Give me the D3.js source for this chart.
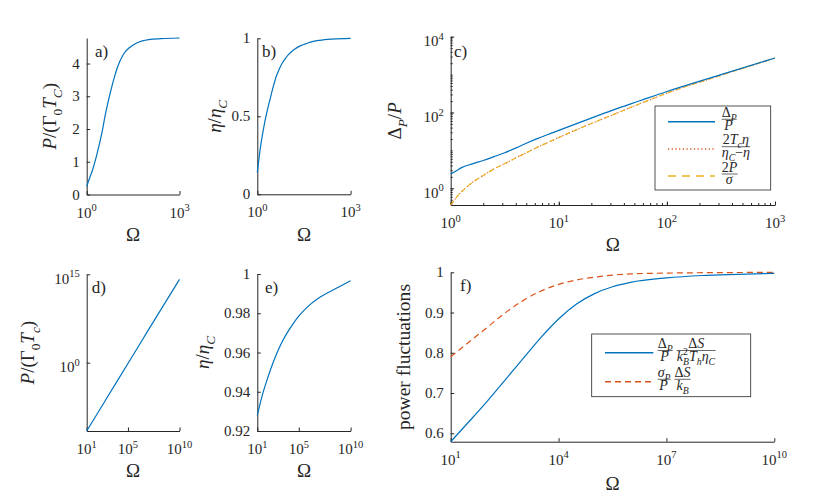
<!DOCTYPE html>
<html><head><meta charset="utf-8">
<script src="https://cdn.jsdelivr.net/npm/d3@7"></script>
<style>body{margin:0;background:#fff}</style>
</head><body>
<svg id="fig" width="830" height="497"></svg>
<script>
// ---------------- data ----------------
// panel a & b  (Omega from 1 to 1000)
const omegaAB = [1, 1.26, 1.58, 2, 2.51, 3.16, 3.98, 5.01, 6.31, 7.94, 10, 15.8, 25.1, 39.8, 63.1, 100, 251, 1000];
const powerA  = [0.25, 0.52, 0.78, 1.12, 1.5, 1.92, 2.43, 2.86, 3.25, 3.6, 3.9, 4.3, 4.5, 4.62, 4.69, 4.73, 4.76, 4.78];
const etaB    = [0.14, 0.30, 0.42, 0.52, 0.60, 0.68, 0.75, 0.80, 0.84, 0.87, 0.895, 0.93, 0.953, 0.968, 0.98, 0.987, 0.995, 1.0];
// panel c
const omegaC      = [1, 1.12, 1.26, 1.58, 2, 2.51, 3.16, 3.98, 5.01, 6.31, 7.94, 10, 17.8, 31.6, 56.2, 100, 316, 1000];
const deltaPoverP = [2.40, 2.88, 3.51, 4.42, 5.43, 6.84, 8.71, 11.5, 15.5, 20.4, 26.3, 33.9, 63.1, 116, 204, 359, 1000, 2740];
const tcEtaRatio  = [0.363, 0.562, 0.813, 1.41, 2.19, 3.24, 4.47, 6.31, 8.71, 12.0, 16.2, 21.9, 44.7, 87.1, 170, 324, 955, 2740];
const twoPoverSig = [0.363, 0.562, 0.813, 1.41, 2.19, 3.24, 4.47, 6.31, 8.71, 12.0, 16.2, 21.9, 44.7, 87.1, 170, 324, 955, 2740];
// panel d
const omegaD = [10, 1e3, 1e5, 1e7, 1e10];
const powerD = [2.5e-12, 1.35e-6, 0.708, 3.98e5, 1.41e14];
// panel e
const omegaE = [10, 31.6, 100, 316, 1000, 3162, 1e4, 31623, 1e5, 1e6, 1e7, 1e8, 1e9, 1e10];
const etaE   = [0.928, 0.9385, 0.947, 0.9545, 0.961, 0.9665, 0.971, 0.975, 0.9785, 0.984, 0.988, 0.991, 0.9938, 0.9966];
// panel f
const omegaF  = [10, 31.6, 100, 316, 1000, 3162, 1e4, 31623, 1e5, 316228, 1e6, 1e7, 1e8, 1e9, 1e10];
const flucDP  = [0.579, 0.628, 0.678, 0.731, 0.784, 0.837, 0.884, 0.921, 0.947, 0.964, 0.975, 0.986, 0.992, 0.995, 0.9975];
const flucSig = [0.79, 0.826, 0.862, 0.898, 0.929, 0.953, 0.97, 0.981, 0.988, 0.993, 0.996, 0.998, 0.999, 0.9995, 1.0];
// ticks
const ticksA_x = [1, 1000], ticksA_y = [0, 1, 2, 3, 4];
const ticksB_y = [0, 0.5, 1];
const ticksC_x = [1, 10, 100, 1000], ticksC_y = [1, 100, 10000];
const ticksD_x = [10, 1e5, 1e10], ticksD_y = [1, 1e15];
const ticksE_y = [0.92, 0.94, 0.96, 0.98, 1];
const ticksF_x = [10, 1e4, 1e7, 1e10], ticksF_y = [0.6, 0.7, 0.8, 0.9, 1];

// ---------------- drawing ----------------
const BLUE = '#0072BD', ORANGE = '#D95319', YELLOW = '#EDB120', AX = '#262626';
const FONT = 'Liberation Serif, serif';
const svg = d3.select('#fig');

function rich(sel, parts, fs) {
  let cur = 0;
  parts.forEach(pt => {
    const off = pt.sub ? 0.3 * fs : pt.sup ? -0.4 * fs : 0;
    const ts = sel.append('tspan').text(pt.t);
    if (off !== cur) ts.attr('dy', off - cur);
    cur = off;
    if (pt.sub || pt.sup) ts.attr('font-size', 0.7 * fs);
    if (pt.i) ts.attr('font-style', 'italic');
    if (pt.dx) ts.attr('dx', pt.dx * fs);
  });
  return sel;
}
function txt(g) { return g.append('text').attr('font-family', FONT).attr('fill', AX); }
function expOf(v) { return Math.round(Math.log10(v)); }
function powLabel(t, v) {
  t.append('tspan').text('10');
  t.append('tspan').attr('dy', -6.5).attr('font-size', 10.5).text(expOf(v));
}
function minorsLog(d0, d1) {
  const out = [];
  for (let e = Math.floor(Math.log10(d0)); e <= Math.ceil(Math.log10(d1)); e++)
    for (let m = 1; m <= 9; m++) { const v = m * Math.pow(10, e); if (v >= d0 * 0.999 && v <= d1 * 1.001) out.push(v); }
  return out;
}

function panel(p) {
  const g = svg.append('g');
  const x = (p.xlog ? d3.scaleLog() : d3.scaleLinear()).domain(p.xd).range([p.L, p.R]);
  const y = (p.ylog ? d3.scaleLog() : d3.scaleLinear()).domain(p.yd).range([p.B, p.T]);
  const style = s => { s.selectAll('path,line').attr('stroke', AX).attr('stroke-width', 1); };
  if (p.xminor) g.append('g').attr('transform', `translate(0,${p.B})`)
    .call(d3.axisBottom(x).tickValues(minorsLog(p.xd[0], p.xd[1])).tickSizeInner(-2).tickSizeOuter(0).tickFormat(''))
    .call(s => s.select('.domain').remove()).call(style);
  if (p.yminor) g.append('g').attr('transform', `translate(${p.L},0)`)
    .call(d3.axisLeft(y).tickValues(minorsLog(p.yd[0], p.yd[1])).tickSizeInner(-2).tickSizeOuter(0).tickFormat(''))
    .call(s => s.select('.domain').remove()).call(style);
  g.append('g').attr('transform', `translate(0,${p.B})`)
    .call(d3.axisBottom(x).tickValues(p.xt).tickSizeInner(-3.5).tickSizeOuter(0).tickFormat('')).call(style);
  g.append('g').attr('transform', `translate(${p.L},0)`)
    .call(d3.axisLeft(y).tickValues(p.yt).tickSizeInner(-3.5).tickSizeOuter(0).tickFormat('')).call(style);
  // tick labels
  p.xt.forEach(v => {
    const t = txt(g).attr('x', x(v)).attr('y', p.B + 23).attr('text-anchor', 'middle').attr('font-size', 15);
    powLabel(t, v);
  });
  p.yt.forEach(v => {
    const t = txt(g).attr('x', p.L - 7).attr('text-anchor', 'end').attr('font-size', 15);
    if (p.ylog) { t.attr('y', y(v) + 9.5); powLabel(t, v); }
    else { t.attr('y', y(v) + 5).text(p.yfmt ? p.yfmt(v) : v); }
  });
  // axis labels
  txt(g).attr('x', (p.L + p.R) / 2).attr('y', p.xlabY).attr('text-anchor', 'middle')
    .attr('font-size', 19).text('Ω');
  const fs = p.ylabFs || 19;
  const yl = txt(g).attr('transform', `translate(${p.ylabX},${(p.T + p.B) / 2}) rotate(-90)`)
    .attr('text-anchor', 'middle').attr('font-size', fs);
  if (typeof p.ylab === 'string') {
    yl.text(p.ylab);
    if (p.ylabLen) yl.attr('textLength', p.ylabLen).attr('lengthAdjust', 'spacingAndGlyphs');
  } else rich(yl, p.ylab, fs);
  // panel letter
  txt(g).attr('x', p.tagX).attr('y', p.tagY).attr('font-size', 17).text(p.tag);
  // series
  p.series.forEach(s => {
    const pts = s.xs.map((v, i) => [v, s.ys[i]]);
    g.append('path').datum(pts)
      .attr('d', d3.line().x(d => x(d[0])).y(d => y(d[1])).curve(d3.curveMonotoneX))
      .attr('fill', 'none').attr('stroke', s.color).attr('stroke-width', s.w || 1.2)
      .attr('stroke-dasharray', s.dash || null);
  });
  return g;
}

const etaLab = [{t:'η',i:1},{t:'/'},{t:'η',i:1},{t:'C',i:1,sub:1}];

panel({L:86.7, R:179.5, T:38, B:194.5, xlog:true, xd:[1,1000], ylog:false, yd:[0,4.78],
  xt:ticksA_x, yt:ticksA_y, xlabY:241, ylabX:56,
  ylab:[{t:'P',i:1},{t:'/(Γ'},{t:'0',sub:1},{t:'T',i:1},{t:'C',i:1,sub:1},{t:')'}],
  tag:'a)', tagX:95, tagY:57,
  series:[{xs:omegaAB, ys:powerA, color:BLUE}]});

panel({L:257.3, R:350.6, T:38.3, B:194.3, xlog:true, xd:[1,1000], ylog:false, yd:[0,1],
  xt:ticksA_x, yt:ticksB_y, xlabY:241, ylabX:221, ylab:etaLab,
  tag:'b)', tagX:262, tagY:57,
  series:[{xs:omegaAB, ys:etaB, color:BLUE}]});

panel({L:450.7, R:775, T:36.7, B:205, xlog:true, xd:[1,1000], ylog:true, yd:[0.363,10000],
  xminor:true, yminor:true,
  xt:ticksC_x, yt:ticksC_y, xlabY:251, ylabX:401,
  ylab:[{t:'Δ'},{t:'P',i:1,sub:1},{t:'/'},{t:'P',i:1}],
  tag:'c)', tagX:454, tagY:57,
  series:[{xs:omegaC, ys:tcEtaRatio, color:ORANGE, dash:'1,2.5'},
          {xs:omegaC, ys:twoPoverSig, color:YELLOW, dash:'5,3.5'},
          {xs:omegaC, ys:deltaPoverP, color:BLUE}]});

panel({L:86.7, R:179.5, T:274.3, B:431, xlog:true, xd:[10,1e10], ylog:true, yd:[2.5e-12,1e15],
  xt:ticksD_x, yt:ticksD_y, xlabY:477, ylabX:34,
  ylab:[{t:'P',i:1},{t:'/(Γ'},{t:'0',sub:1},{t:'T',i:1},{t:'c',i:1,sub:1},{t:')'}],
  tag:'d)', tagX:91.7, tagY:293,
  series:[{xs:omegaD, ys:powerD, color:BLUE}]});

panel({L:257.3, R:350.6, T:274, B:431, xlog:true, xd:[10,1e10], ylog:false, yd:[0.92,1],
  xt:ticksD_x, yt:ticksE_y, xlabY:477, ylabX:209, ylab:etaLab,
  yfmt: v => v === 1 ? '1' : d3.format('.2f')(v),
  tag:'e)', tagX:265, tagY:293,
  series:[{xs:omegaE, ys:etaE, color:BLUE}]});

panel({L:450.7, R:774.3, T:272.3, B:441.7, xlog:true, xd:[10,1e10], ylog:false, yd:[0.579,1],
  xt:ticksF_x, yt:ticksF_y, xlabY:490, ylabX:410, ylab:'power fluctuations', ylabFs:18, ylabLen:146,
  yfmt: v => v === 1 ? '1' : d3.format('.1f')(v),
  tag:'f)', tagX:460, tagY:291,
  series:[{xs:omegaF, ys:flucSig, color:ORANGE, dash:'6,4'},
          {xs:omegaF, ys:flucDP, color:BLUE}]});

// ---------------- legends ----------------
function frac(g, x, ybar, num, den, fs) {
  const tn = rich(txt(g).attr('x', x).attr('y', ybar - 2.5).attr('font-size', fs), num, fs);
  const td = rich(txt(g).attr('x', x).attr('y', ybar + fs * 0.7 + 0.5).attr('font-size', fs), den, fs);
  const wn = tn.node().getBBox().width, wd = td.node().getBBox().width;
  const w = Math.max(wn, wd);
  tn.attr('x', x + (w - wn) / 2);
  td.attr('x', x + (w - wd) / 2);
  g.append('line').attr('x1', x).attr('x2', x + w).attr('y1', ybar).attr('y2', ybar)
    .attr('stroke', AX).attr('stroke-width', 0.7);
  return w;
}
const FS = 14;
// legend c
const lc = svg.append('g');
lc.append('rect').attr('x', 655).attr('y', 106).attr('width', 115.7).attr('height', 84)
  .attr('fill', '#fff').attr('stroke', AX).attr('stroke-width', 0.8);
const legC = [
  {y:121.7, bar:119.3, color:BLUE, dash:null,
   num:[{t:'Δ'},{t:'P',i:1,sub:1}], den:[{t:'P',i:1}]},
  {y:149, bar:146.7, color:ORANGE, dash:'1.2,2.5',
   num:[{t:'2'},{t:'T',i:1},{t:'c',i:1,sub:1},{t:'η',i:1}], den:[{t:'η',i:1},{t:'C',i:1,sub:1},{t:'−'},{t:'η',i:1}]},
  {y:176, bar:174, color:YELLOW, dash:'8,6',
   num:[{t:'2'},{t:'P',i:1}], den:[{t:'σ',i:1}]}
];
legC.forEach(e => {
  lc.append('line').attr('x1', 668).attr('x2', 715).attr('y1', e.y).attr('y2', e.y)
    .attr('stroke', e.color).attr('stroke-width', 1.6).attr('stroke-dasharray', e.dash);
  frac(lc, 721.7, e.bar, e.num, e.den, FS);
});
// legend f
const lf = svg.append('g');
lf.append('rect').attr('x', 591.7).attr('y', 334).attr('width', 159).attr('height', 62.7)
  .attr('fill', '#fff').attr('stroke', AX).attr('stroke-width', 0.8);
const legF = [
  {y:352.7, bar:350.5, color:BLUE, dash:null,
   f1:{num:[{t:'Δ'},{t:'P',i:1,sub:1}], den:[{t:'P',i:1}]},
   f2:{num:[{t:'Δ'},{t:'S',i:1}], den:[{t:'k',i:1},{t:'2',sup:1},{t:'B',i:1,sub:1,dx:-0.35},{t:'T',i:1},{t:'h',i:1,sub:1},{t:'η',i:1},{t:'C',i:1,sub:1}]}},
  {y:381.7, bar:379.3, color:ORANGE, dash:'6,4',
   f1:{num:[{t:'σ',i:1},{t:'P',i:1,sub:1}], den:[{t:'P',i:1}]},
   f2:{num:[{t:'Δ'},{t:'S',i:1}], den:[{t:'k',i:1},{t:'B',i:1,sub:1}]}}
];
legF.forEach(e => {
  lf.append('line').attr('x1', 605).attr('x2', 653.3).attr('y1', e.y).attr('y2', e.y)
    .attr('stroke', e.color).attr('stroke-width', 1.6).attr('stroke-dasharray', e.dash);
  const w1 = frac(lf, 657.7, e.bar, e.f1.num, e.f1.den, FS);
  frac(lf, 657.7 + w1 + 4, e.bar, e.f2.num, e.f2.den, FS);
});
</script>
</body></html>
